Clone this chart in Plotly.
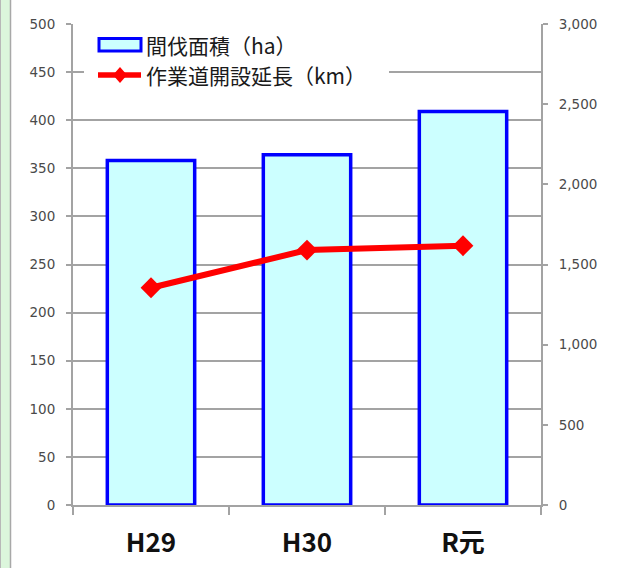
import plotly.graph_objects as go

# Fiscal years
years = ["H29", "H30", "R元"]
# Thinning area (ha) — left axis
thinning_area = [358, 364, 409]
# Work road length opened (km) — right axis
road_length = [1355, 1590, 1617]

area_name = "間伐面積（ha）"
road_name = "作業道開設延長（km）"

W, H = 620, 568
L, R, T, B = 73, 79, 24, 63
PW, PH = W - L - R, H - T - B


def px(x):
    return (x - L) / PW


def py(y):
    return (H - B - y) / PH


GRID = "#a3a3a3"
TICK_FONT = dict(family="DejaVu Sans", size=13.5, color="#4a4a4a")

fig = go.Figure()
fig.add_trace(go.Bar(
    x=years, y=thinning_area, name=area_name,
    marker=dict(color="#ccffff", line=dict(color="#0000ff", width=3.5)),
    showlegend=False,
))
fig.add_trace(go.Scatter(
    x=years, y=road_length, name=road_name, yaxis="y2",
    mode="lines+markers",
    line=dict(color="#ff0000", width=6),
    marker=dict(symbol="diamond", size=16, color="#ff0000"),
    showlegend=False,
))

shapes = [
    # green side strip
    dict(type="rect", xref="paper", yref="paper", x0=px(0), x1=px(10), y0=py(H), y1=py(0),
         fillcolor="#dcf6dc", line=dict(width=0), layer="below"),
    dict(type="line", xref="paper", yref="paper", x0=px(10.5), x1=px(10.5), y0=py(H), y1=py(0),
         line=dict(color="#a8a8a8", width=1.5)),
    dict(type="line", xref="paper", yref="paper", x0=px(0.5), x1=px(0.5), y0=py(H), y1=py(0),
         line=dict(color="#b8b8b8", width=1)),
    # legend background
    dict(type="rect", xref="paper", yref="paper", x0=px(84), x1=px(389), y0=py(90), y1=py(32),
         fillcolor="white", line=dict(width=0), layer="above"),
    # legend symbol: bar
    dict(type="rect", xref="paper", yref="paper", x0=px(99), x1=px(141), y0=py(51), y1=py(38.5),
         fillcolor="#ccffff", line=dict(color="#0000ff", width=3), layer="above"),
    # legend symbol: line
    dict(type="line", xref="paper", yref="paper", x0=px(98), x1=px(141), y0=py(75), y1=py(75),
         line=dict(color="#ff0000", width=5.5), layer="above"),
    dict(type="path", xref="paper", yref="paper",
         path=f"M {px(120)},{py(67)} L {px(127)},{py(75)} L {px(120)},{py(83)} L {px(113)},{py(75)} Z",
         fillcolor="#ff0000", line=dict(width=0), layer="above"),
]

annotations = [
    dict(text=area_name, xref="paper", yref="paper", x=px(144), y=py(45),
         xanchor="left", yanchor="middle", showarrow=False,
         font=dict(family="Noto Sans CJK JP", size=21, color="#1a1a1a")),
    dict(text=road_name, xref="paper", yref="paper", x=px(144), y=py(75),
         xanchor="left", yanchor="middle", showarrow=False,
         font=dict(family="Noto Sans CJK JP", size=21, color="#1a1a1a")),
]

fig.update_layout(
    width=W, height=H,
    margin=dict(l=L, r=R, t=T, b=B, autoexpand=False),
    paper_bgcolor="white", plot_bgcolor="white",
    bargap=0.44,
    shapes=shapes, annotations=annotations,
    xaxis=dict(
        type="category", tickson="boundaries", ticks="outside", ticklen=8,
        tickcolor=GRID, tickwidth=1.5,
        showline=True, linecolor=GRID, linewidth=2,
        showgrid=False, ticklabelstandoff=14, automargin=False,
        tickfont=dict(family="Noto Sans CJK JP", size=26, color="#111111", weight="bold"),
    ),
    yaxis=dict(
        range=[0, 500], dtick=50, tick0=0,
        ticks="outside", ticklen=5, tickcolor=GRID, tickwidth=1.5,
        showline=True, linecolor=GRID, linewidth=2,
        showgrid=True, gridcolor=GRID, gridwidth=1.5, zeroline=False,
        ticklabelstandoff=8, tickfont=TICK_FONT, automargin=False,
    ),
    yaxis2=dict(
        range=[0, 3000], dtick=500, tick0=0, overlaying="y", side="right",
        ticks="outside", ticklen=5, tickcolor=GRID, tickwidth=1.5,
        showline=True, linecolor=GRID, linewidth=2,
        showgrid=False, zeroline=False, tickformat=",d",
        ticklabelstandoff=8, tickfont=TICK_FONT, automargin=False,
    ),
)

fig.write_html("out.html")
